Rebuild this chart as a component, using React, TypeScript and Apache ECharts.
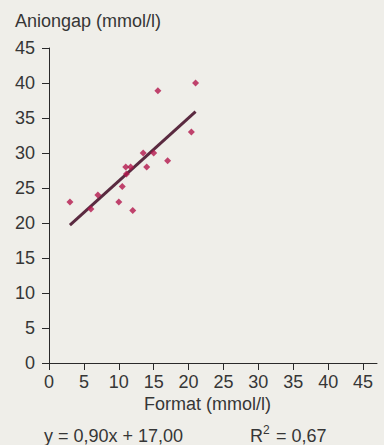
import React, { useEffect, useRef } from "react";
import * as echarts from "echarts";

const formatValues: number[] = [3, 6, 7, 10, 10.5, 11, 11.1, 11.7, 12, 13.5, 14, 15, 15.6, 17, 20.4, 21];
const aniongapValues: number[] = [23, 22, 24, 23, 25.2, 28, 27, 28, 21.8, 30, 28, 30, 38.9, 28.9, 33, 40];
const xTicks: number[] = [0, 5, 10, 15, 20, 25, 30, 35, 40, 45];
const slope = 0.9;
const intercept = 17.0;
const fitRange: number[] = [3, 21];

const TEXT = "#363636";
const FONT = "Liberation Sans, Arial, sans-serif";
const FS = 18;

export default function App() {
  const ref = useRef<HTMLDivElement>(null);
  useEffect(() => {
    document.body.style.margin = "0";
    document.body.style.background = "#efeee9";
    const chart = echarts.init(ref.current!, null, { renderer: "svg" });
    const points = formatValues.map((x, i) => [x, aniongapValues[i]]);
    const fit = fitRange.map((x) => [x, slope * x + intercept]);
    chart.setOption({
      animation: false,
      backgroundColor: "#efeee9",
      textStyle: { fontFamily: FONT },
      grid: { left: 49, right: 7, top: 48, bottom: 82, containLabel: false },
      xAxis: {
        type: "value",
        min: 0,
        max: 47,
        interval: 5,
        splitLine: { show: false },
        axisLine: { show: true, onZero: false, lineStyle: { color: "#2a2a2a", width: 1 } },
        axisTick: { show: true, length: 7, customValues: xTicks, lineStyle: { color: "#2a2a2a" } },
        axisLabel: { customValues: xTicks, color: TEXT, fontSize: FS, margin: 10, fontFamily: FONT },
      },
      yAxis: {
        type: "value",
        min: 0,
        max: 45,
        interval: 5,
        splitLine: { show: false },
        axisLine: { show: true, onZero: false, lineStyle: { color: "#2a2a2a", width: 1 } },
        axisTick: { show: true, length: 7, lineStyle: { color: "#2a2a2a" } },
        axisLabel: { color: TEXT, fontSize: FS, margin: 14, fontFamily: FONT },
      },
      series: [
        {
          type: "line",
          data: fit,
          symbol: "none",
          lineStyle: { color: "#5a2a40", width: 3 },
          z: 2,
        },
        {
          type: "scatter",
          data: points,
          symbol: "diamond",
          symbolSize: 7,
          itemStyle: { color: "#b3164c" },
          z: 3,
        },
      ],
      graphic: [
        {
          type: "text",
          x: 15,
          y: 20.5,
          style: { text: "Aniongap (mmol/l)", fill: TEXT, fontSize: FS, fontFamily: FONT, verticalAlign: "middle" },
        },
        {
          type: "text",
          x: 144,
          y: 404,
          style: { text: "Format (mmol/l)", fill: TEXT, fontSize: FS, fontFamily: FONT, verticalAlign: "middle" },
        },
        {
          type: "text",
          x: 44,
          y: 435.5,
          style: { text: "y = 0,90x + 17,00", fill: TEXT, fontSize: FS, fontFamily: FONT, verticalAlign: "middle" },
        },
        {
          type: "text",
          x: 250,
          y: 435.5,
          style: { text: "R", fill: TEXT, fontSize: FS, fontFamily: FONT, verticalAlign: "middle" },
        },
        {
          type: "text",
          x: 263,
          y: 430,
          style: { text: "2", fill: TEXT, fontSize: 12, fontFamily: FONT, verticalAlign: "middle" },
        },
        {
          type: "text",
          x: 276,
          y: 435.5,
          style: { text: "= 0,67", fill: TEXT, fontSize: FS, fontFamily: FONT, verticalAlign: "middle" },
        },
      ],
    });
    return () => chart.dispose();
  }, []);
  return <div ref={ref} style={{ width: 384, height: 445, background: "#efeee9" }} />;
}
